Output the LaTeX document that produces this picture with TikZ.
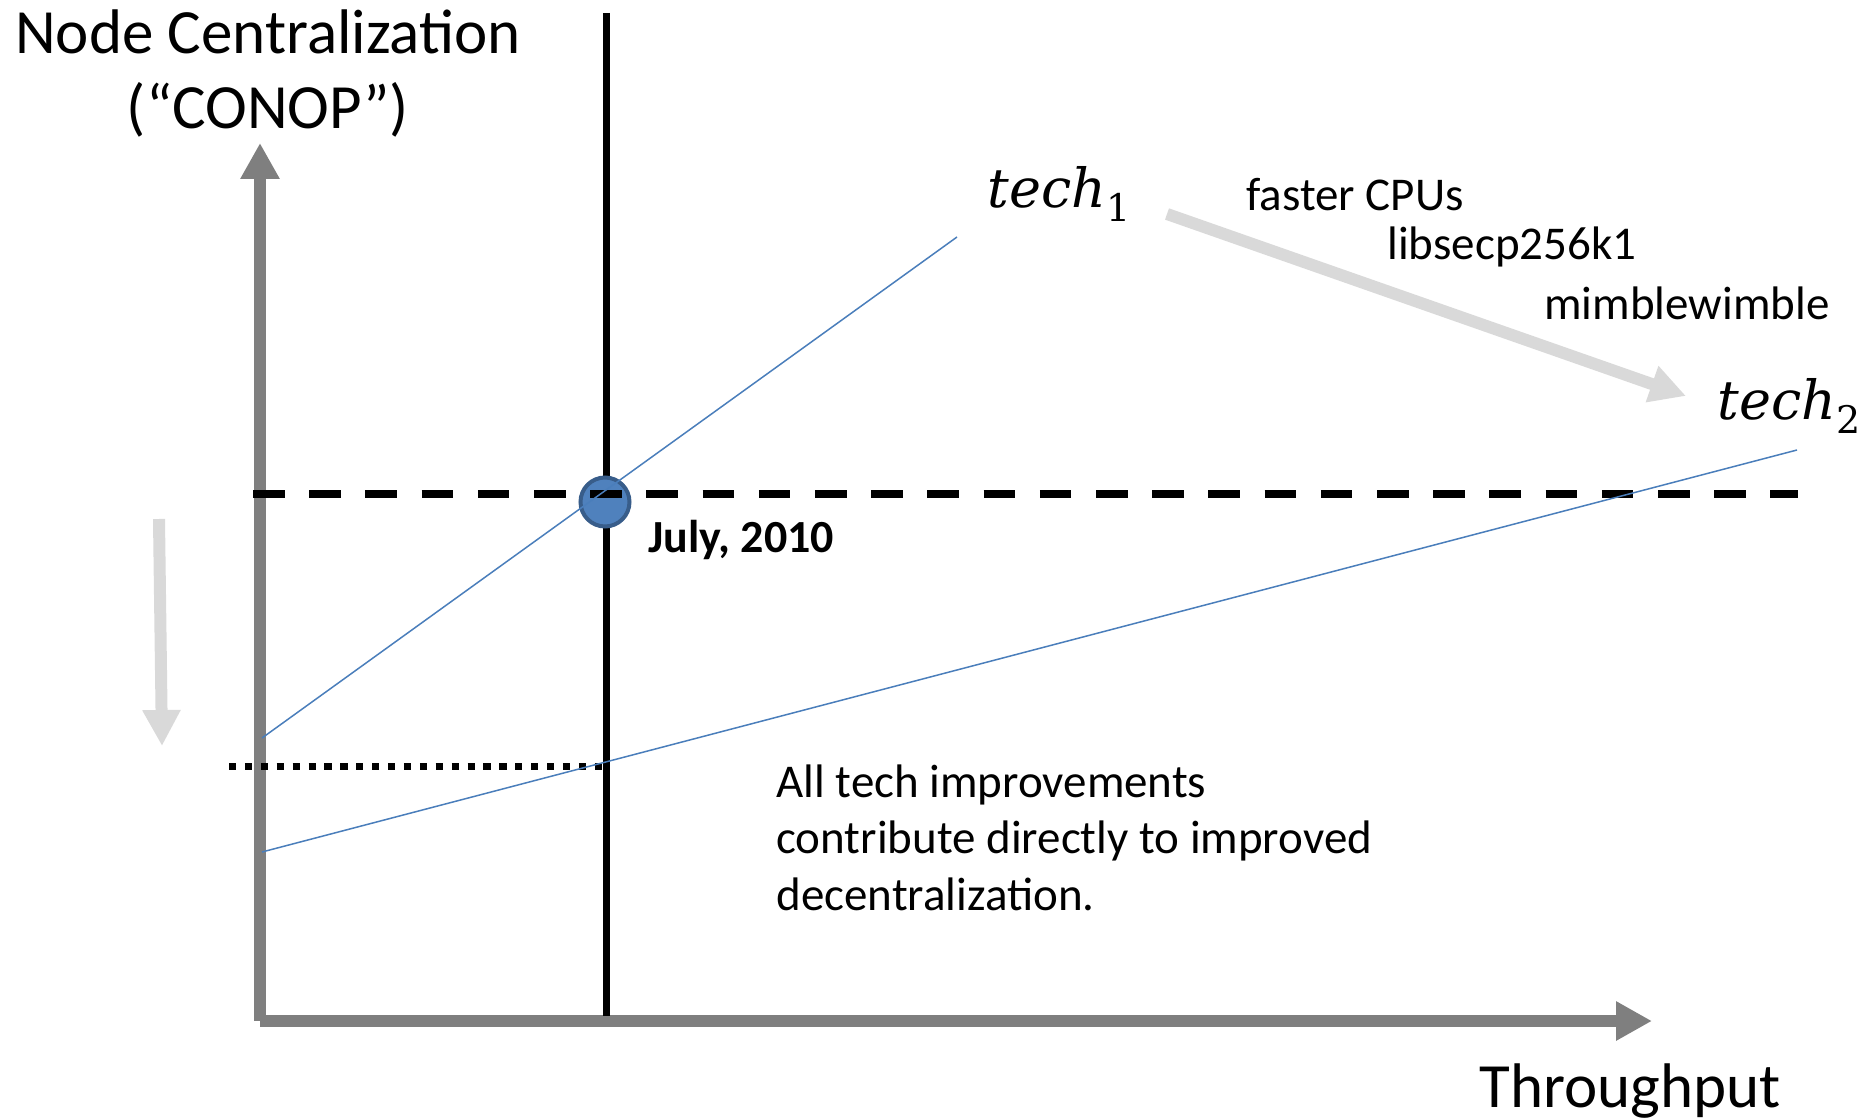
\documentclass[tikz,border=0pt]{standalone}
\usepackage[no-math]{fontspec}
\setmainfont{Carlito}
\newfontfamily\techfont{DejaVu Serif}
\usetikzlibrary{arrows.meta}
\definecolor{axisgray}{HTML}{7F7F7F}
\definecolor{hintgray}{HTML}{D9D9D9}
\definecolor{techblue}{HTML}{4A7EBB}
\definecolor{dotfill}{HTML}{4F81BD}
\definecolor{dotedge}{HTML}{385D8A}
\newcommand{\techlabel}[1]{{\techfont\itshape tech}{\techfont\fontsize{19}{19}\selectfont\raisebox{-7pt}{#1}}}
\begin{document}
\begin{tikzpicture}[x=0.5pt,y=-0.5pt,
  axisarrow/.style={draw=axisgray, line width=6.25pt, -{Triangle[length=18pt,width=18.5pt]}},
  hintarrow/.style={draw=hintgray, line width=6pt, -{Triangle[length=18pt,width=18pt]}},
  techline/.style={draw=techblue, line width=0.75pt},
  bigtext/.style={font=\fontsize{31.5}{37.5}\selectfont, inner sep=0pt},
  smalltext/.style={font=\fontsize{23.5}{28.25}\selectfont, inner sep=0pt},
  mathtext/.style={font=\fontsize{27}{32}\selectfont, inner sep=0pt}]
\useasboundingbox (0,0) rectangle (1870,1118);

% coordinates
\coordinate (O) at (260,1021);
\coordinate (Ytip) at (260,143);
\coordinate (Xtip) at (1652,1021);
\coordinate (Vtop) at (606,13);
\coordinate (Vbot) at (606,1016);
\coordinate (Dl) at (253,494);
\coordinate (Dr) at (1798,494);
\coordinate (Pl) at (229,766);
\coordinate (Pr) at (606,766);
\coordinate (Aa) at (262,738);
\coordinate (Ab) at (957,237);
\coordinate (Ba) at (262,852);
\coordinate (Bb) at (1797,450);
\coordinate (Htop) at (159,519);
\coordinate (Hbot) at (162,746);
\coordinate (Ts) at (1167,214);
\coordinate (Te) at (1686,396);

% axes
\draw[axisarrow] (O) -- (Ytip);
\draw[axisarrow] (O) -- (Xtip);

% vertical line
\draw[line width=3.5pt] (Vtop) -- (Vbot);

% point
\node[circle, fill=dotfill, draw=dotedge, line width=2pt, minimum size=24.5pt, inner sep=0pt] (pt) at (605,502) {};

% dashed and dotted lines
\draw[line width=3.6pt, dash pattern=on 15.75pt off 12.35pt] (Dl) -- (Dr);
\draw[line width=3.5pt, dash pattern=on 3.6pt off 4.35pt] (Pl) -- (Pr);

% tech lines
\draw[techline] (Aa) -- (Ab);
\draw[techline] (Ba) -- (Bb);

% hint arrows
\draw[hintarrow] (Htop) -- (Hbot);
\draw[hintarrow] (Ts) -- (Te);

% texts
\node[bigtext, align=center, anchor=base] (ylab) at (268,129) {Node Centralization\\(“CONOP”)};
\node[bigtext, anchor=base west] (xlab) at (1479,1107) {Throughput};
\node[mathtext, anchor=base west] (t1) at (987,208) {\techlabel{1}};
\node[mathtext, anchor=base west] (t2) at (1717,420) {\techlabel{2}};
\node[smalltext, anchor=base west] (f1) at (1246,211) {faster CPUs};
\node[smalltext, anchor=base west] (f2) at (1387,260) {libsecp256k1};
\node[smalltext, anchor=base west] (f3) at (1544,320) {mimblewimble};
\node[smalltext, font=\fontsize{23}{28}\selectfont\bfseries, anchor=base west] (jul) at (648,552) {July, 2010};
\node[smalltext, align=left, anchor=base west] (note) at (776,910) {All tech improvements\\contribute directly to improved\\decentralization.};
\end{tikzpicture}
\end{document}
